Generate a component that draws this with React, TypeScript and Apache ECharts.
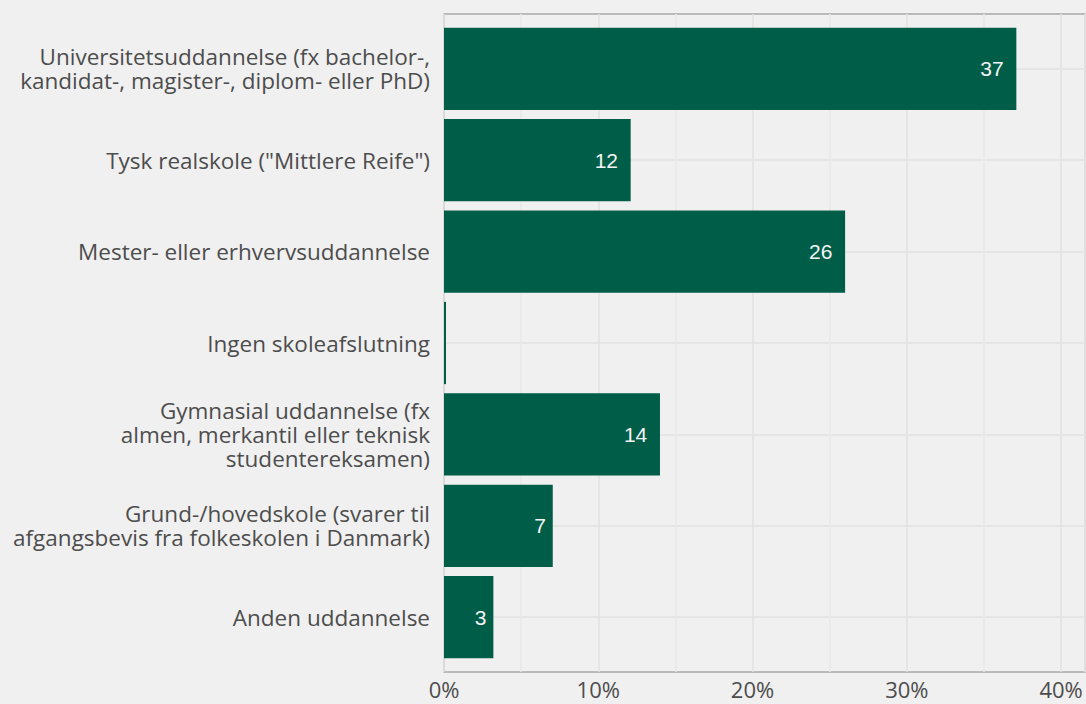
import React, { useEffect, useRef } from "react";
import * as echarts from "echarts";

const categories: string[] = [
  "Universitetsuddannelse (fx bachelor-,\nkandidat-, magister-, diplom- eller PhD)",
  'Tysk realskole ("Mittlere Reife")',
  "Mester- eller erhvervsuddannelse",
  "Ingen skoleafslutning",
  "Gymnasial uddannelse (fx\nalmen, merkantil eller teknisk\nstudentereksamen)",
  "Grund-/hovedskole (svarer til\nafgangsbevis fra folkeskolen i Danmark)",
  "Anden uddannelse",
];
const values: number[] = [37.1, 12.1, 26.0, 0.13, 14.0, 7.05, 3.2];
const xTicks: number[] = [0, 10, 20, 30, 40];
const xMax = 41.55;

const BG = "#f0f0f0";
const BAR = "#005e48";
const TEXT = "#4d4d4d";
const LABEL_FS = 21;

export default function App() {
  const ref = useRef<HTMLDivElement>(null);
  useEffect(() => {
    document.body.style.margin = "0";
    document.body.style.background = BG;
    const chart = echarts.init(ref.current!, null, { renderer: "svg" });
    const gridL = 444;
    const gridR = 1;
    const frameTop = 14;
    const frameBottom = 704 - 672;
    const band = (672 - 14) / 7.2;
    const barTop = 14 + 0.1 * band;
    const barH = band * 7;
    const centerTop = barTop + band / 2;
    const centerH = band * 6;

    const barData = values.map((v) => {
      const txt = String(Math.round(v));
      const w = txt.length * 0.556 * LABEL_FS;
      return {
        value: v,
        label: {
          show: Math.round(v) > 0,
          distance: 0.5 * w + 1,
        },
      };
    });

    chart.setOption({
      animation: false,
      backgroundColor: BG,
      grid: [
        {
          left: gridL,
          right: gridR,
          top: frameTop,
          bottom: frameBottom,
          show: true,
          borderColor: "#a8a8a8",
          borderWidth: 1.3,
          backgroundColor: "transparent",
          containLabel: false,
        },
        {
          left: gridL,
          right: gridR,
          top: barTop,
          height: barH,
          containLabel: false,
        },
        {
          left: gridL,
          right: gridR,
          top: centerTop,
          height: centerH,
          containLabel: false,
        },
      ],
      xAxis: [
        {
          gridIndex: 0,
          type: "value",
          min: 0,
          max: xMax,
          interval: 5,
          axisLine: { show: false },
          axisTick: { show: false },
          axisLabel: {
            show: true,
            fontFamily: "Open Sans",
            fontSize: 22,
            color: TEXT,
            margin: 6,
            showMaxLabel: false,
            formatter: (v: number) => (xTicks.indexOf(v) >= 0 ? v + "%" : ""),
          },
          splitLine: {
            show: true,
            lineStyle: { color: ["#e2e2e2", "#e8e8e8"], width: 1.5 },
          },
        },
        { gridIndex: 1, type: "value", min: 0, max: xMax, show: false },
        { gridIndex: 2, type: "value", min: 0, max: xMax, show: false },
      ],
      yAxis: [
        { gridIndex: 0, type: "value", show: false, splitLine: { show: false } },
        {
          gridIndex: 1,
          type: "category",
          inverse: true,
          data: categories,
          axisLine: { show: false },
          axisTick: { show: false },
          splitLine: { show: false },
          axisLabel: {
            fontFamily: "Open Sans",
            fontSize: 22.5,
            lineHeight: 24,
            color: TEXT,
            margin: 14,
            interval: 0,
            align: "right",
          },
        },
        {
          gridIndex: 2,
          type: "value",
          min: 0,
          max: 6,
          interval: 1,
          axisLine: { show: false },
          axisTick: { show: false },
          axisLabel: { show: false },
          splitLine: { show: true, lineStyle: { color: "#e2e2e2", width: 1.5 } },
        },
      ],
      series: [
        {
          type: "bar",
          xAxisIndex: 1,
          yAxisIndex: 1,
          data: barData,
          barCategoryGap: "10%",
          itemStyle: { color: BAR },
          z: 3,
          label: {
            show: true,
            position: "insideRight",
            color: "#f4f4f4",
            fontFamily: "Liberation Sans",
            fontSize: LABEL_FS,
            formatter: (p: any) => String(Math.round(p.value)),
          },
        },
      ],
    });
    return () => chart.dispose();
  }, []);
  return (
    <div
      ref={ref}
      style={{ position: "absolute", left: 0, top: 0, width: 1086, height: 704, background: BG }}
    />
  );
}
